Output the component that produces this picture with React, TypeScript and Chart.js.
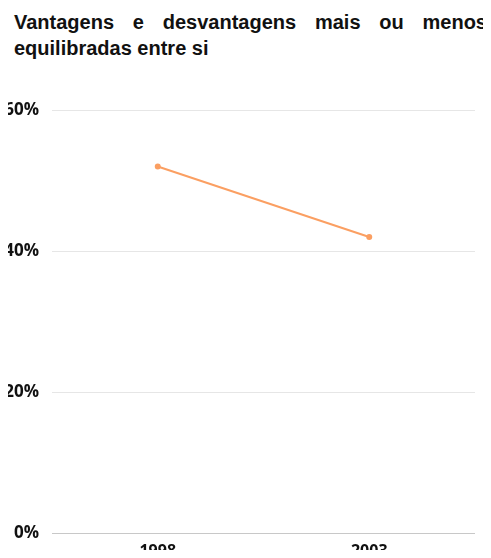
import React, { useEffect, useRef } from "react";
import { Chart, registerables } from "chart.js";

Chart.register(...registerables);

const TITLE = "Vantagens e desvantagens mais ou menos equilibradas entre si";
const categories = ["1998", "2003"];
const seriesValues = [52, 42];
const yTicks = [0, 20, 40, 60];

export default function App() {
  const ref = useRef<HTMLCanvasElement | null>(null);

  useEffect(() => {
    if (!ref.current) return;
    const chart = new Chart(ref.current, {
      type: "line",
      data: {
        labels: categories,
        datasets: [
          {
            label: TITLE,
            data: seriesValues,
            borderColor: "#fb9f62",
            backgroundColor: "#fb9f62",
            borderWidth: 2,
            pointRadius: 2,
            pointHoverRadius: 2,
            tension: 0,
          },
        ],
      },
      options: {
        animation: false,
        responsive: false,
        maintainAspectRatio: false,
        layout: { padding: { left: 0, right: 16, top: 5, bottom: 0 } },
        plugins: { legend: { display: false }, tooltip: { enabled: false }, title: { display: false } },
        scales: {
          x: {
            offset: true,
            grid: { display: false, drawTicks: false },
            border: { display: false },
            afterFit: (axis: any) => {
              axis.height = 25;
            },
            ticks: {
              color: "#111",
              font: { family: "'Open Sans'", weight: "bold", size: 16 },
              padding: 9,
            },
          },
          y: {
            min: 0,
            max: 60,
            afterBuildTicks: (axis: any) => {
              axis.ticks = yTicks.map((v) => ({ value: v }));
            },
            afterFit: (axis: any) => {
              axis.width = 52;
            },
            grid: {
              drawTicks: false,
              color: (ctx: any) => (ctx.tick && ctx.tick.value === 0 ? "#c8c8c8" : "#e6e6e6"),
              lineWidth: 1,
            },
            border: { display: false },
            ticks: {
              color: "#111",
              font: { family: "'Open Sans'", weight: "bold", size: 17 },
              padding: 13,
              callback: (v: any) => v + "%",
            },
          },
        },
      },
    });
    return () => chart.destroy();
  }, []);

  return (
    <div style={{ position: "relative", margin: -8, width: 491, height: 558, overflow: "hidden", background: "#fff" }}>
      <div
        style={{
          position: "absolute",
          left: 14,
          top: 9,
          width: 473,
          fontFamily: "'Liberation Sans', Arial, sans-serif",
          fontWeight: "bold",
          fontSize: 20,
          lineHeight: "26px",
          textAlign: "justify",
          color: "#111",
        }}
      >
        {TITLE}
      </div>
      <canvas ref={ref} width={491} height={471} style={{ position: "absolute", left: 0, top: 87, width: 491, height: 471 }} />
    </div>
  );
}
